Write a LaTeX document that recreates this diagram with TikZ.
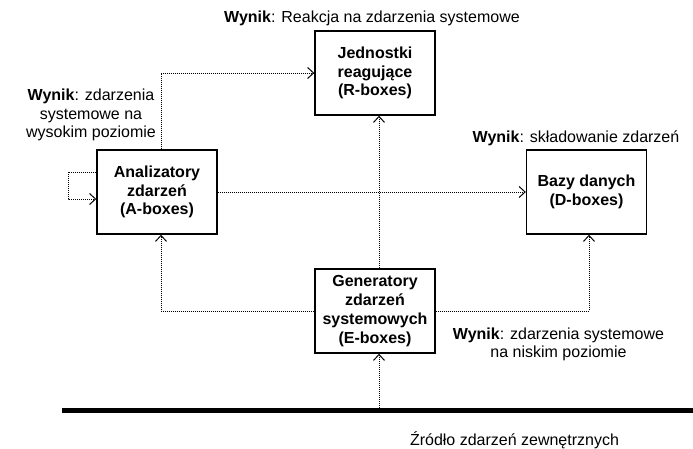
\documentclass[tikz,border=0pt]{standalone}
\usepackage{fontspec}
\setmainfont{Liberation Sans}
\usetikzlibrary{arrows.meta}
\begin{document}
\begin{tikzpicture}[x=1pt,y=-1pt,
  box/.style={draw, line width=1.4pt, minimum width=120pt, minimum height=84pt, inner sep=0pt, align=center, font=\fontsize{16}{18.8}\selectfont\bfseries},
  flow/.style={line width=1pt, dash pattern=on 1pt off 1pt, -{Straight Barb[length=6pt,width=11pt,line width=1pt]}},
  lbl/.style={align=center, inner sep=0pt, font=\fontsize{16}{18.5}\selectfont}]
\useasboundingbox (0,0) rectangle (693,448);
\fill[white] (0,0) rectangle (693,448);
\node[box] (A) at (157,192) {Analizatory\\zdarzeń\\(A-boxes)};
\node[box] (R) at (375,73) {Jednostki\\reagujące\\(R-boxes)};
\node[box] (D) at (586.5,192) {Bazy danych\\(D-boxes)};
\node[box] (E) at (375,311) {Generatory\\zdarzeń\\systemowych\\(E-boxes)};
\coordinate (bl) at (62,410);
\coordinate (br) at (693,410);
\coordinate (src) at (379,407.5);
\draw[line width=5pt] (bl) -- (br);
\draw[flow] ([xshift=4pt]A.north) |- (R.west);
\draw[flow] ([yshift=20pt]A.west) -- ++(-28,0) |- ([yshift=-7pt]A.west);
\draw[flow] (A.east) -- (D.west);
\draw[flow] ([xshift=4pt]E.north) -- ([xshift=4pt]R.south);
\draw[flow] (E.west) -| ([xshift=4pt]A.south);
\draw[flow] (E.east) -| ([xshift=2.5pt]D.south);
\draw[flow] (src) -- ([xshift=4pt]E.south);
\node[lbl] (l1) at (372,18) {\textbf{Wynik}: Reakcja na zdarzenia systemowe};
\node[lbl] (l2) at (91,115) {\textbf{Wynik}: zdarzenia\\systemowe na\\wysokim poziomie};
\node[lbl] (l3) at (576,138) {\textbf{Wynik}: składowanie zdarzeń};
\node[lbl] (l4) at (558.5,344.5) {\textbf{Wynik}: zdarzenia systemowe\\na niskim poziomie};
\node[lbl] (l5) at (514.5,440) {Źródło zdarzeń zewnętrznych};
\end{tikzpicture}
\end{document}
